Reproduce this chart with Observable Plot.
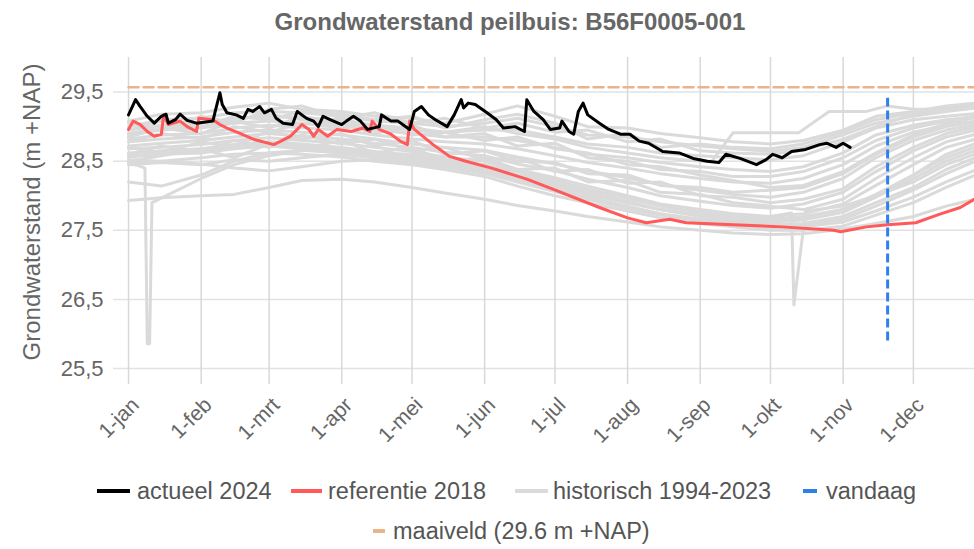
<!DOCTYPE html>
<html><head><meta charset="utf-8">
<script src="https://cdn.jsdelivr.net/npm/d3@7"></script>
<script src="https://cdn.jsdelivr.net/npm/@observablehq/plot@0.6"></script>
<style>
body{margin:0;background:#fff;font-family:"Liberation Sans",Arial,sans-serif;}
#wrap{position:relative;width:974px;height:549px;overflow:hidden;background:#fff;}
#title{position:absolute;left:46px;width:928px;top:10px;text-align:center;font-weight:bold;font-size:24px;line-height:24px;color:#666;}
#chart{position:absolute;left:0;top:45px;}
.leg{position:absolute;font-size:23.5px;color:#555;line-height:24px;white-space:nowrap;}
.sym{position:absolute;height:4px;}
</style></head>
<body><div id="wrap">
<div id="title">Grondwaterstand peilbuis: B56F0005-001</div>
<div id="chart"></div>
<div id="legend"></div>
</div>
<script>
// ---------- data ----------
const yLabel = "Grondwaterstand (m +NAP)";
const yTicks = [25.5, 26.5, 27.5, 28.5, 29.5];
const monthDates = ["2024-01-01","2024-02-01","2024-03-01","2024-04-01","2024-05-01","2024-06-01","2024-07-01","2024-08-01","2024-09-01","2024-10-01","2024-11-01","2024-12-01"];
const monthLabels = ["1-jan","1-feb","1-mrt","1-apr","1-mei","1-jun","1-jul","1-aug","1-sep","1-okt","1-nov","1-dec"];

const actualDates = ["2024-01-01","2024-01-04","2024-01-06","2024-01-09","2024-01-12","2024-01-15","2024-01-17","2024-01-18","2024-01-21","2024-01-23","2024-01-26","2024-01-30","2024-02-06","2024-02-07","2024-02-09","2024-02-10","2024-02-12","2024-02-16","2024-02-19","2024-02-21","2024-02-23","2024-02-26","2024-02-28","2024-03-02","2024-03-04","2024-03-07","2024-03-11","2024-03-13","2024-03-17","2024-03-20","2024-03-22","2024-03-24","2024-03-27","2024-04-01","2024-04-03","2024-04-06","2024-04-09","2024-04-12","2024-04-17","2024-04-18","2024-04-22","2024-04-25","2024-04-27","2024-04-30","2024-05-02","2024-05-05","2024-05-08","2024-05-11","2024-05-16","2024-05-19","2024-05-22","2024-05-23","2024-05-25","2024-05-28","2024-06-02","2024-06-06","2024-06-09","2024-06-14","2024-06-18","2024-06-19","2024-06-22","2024-06-26","2024-06-29","2024-07-03","2024-07-04","2024-07-07","2024-07-09","2024-07-11","2024-07-13","2024-07-15","2024-07-20","2024-07-24","2024-07-29","2024-08-02","2024-08-06","2024-08-10","2024-08-16","2024-08-23","2024-08-29","2024-09-04","2024-09-09","2024-09-12","2024-09-18","2024-09-25","2024-09-29","2024-10-02","2024-10-06","2024-10-10","2024-10-16","2024-10-22","2024-10-25","2024-10-29","2024-11-01","2024-11-04"];
const actualValues = [29.17,29.39,29.29,29.15,29.05,29.15,29.18,29.05,29.10,29.18,29.09,29.05,
 29.08,29.22,29.49,29.32,29.20,29.17,29.12,29.25,29.22,29.29,29.20,
 29.25,29.12,29.05,29.03,29.22,29.12,29.08,29.00,29.15,29.10,
 29.03,29.08,29.15,29.08,28.96,29.00,29.17,29.08,29.08,29.03,28.96,
 29.22,29.29,29.17,29.10,29.00,29.17,29.39,29.27,29.34,29.32,
 29.20,29.10,28.98,29.00,28.93,29.39,29.22,29.10,28.96,
 28.98,29.08,28.93,28.89,29.22,29.34,29.17,29.05,28.96,28.89,
 28.89,28.79,28.76,28.64,28.62,28.54,
 28.50,28.48,28.60,28.54,28.45,28.52,
 28.60,28.55,28.64,28.67,28.74,28.76,28.70,
 28.76,28.70];

const refDates = ["2024-01-01","2024-01-03","2024-01-06","2024-01-09","2024-01-12","2024-01-15","2024-01-16","2024-01-18","2024-01-23","2024-01-26","2024-01-30","2024-01-31","2024-02-06","2024-02-09","2024-02-12","2024-02-17","2024-02-24","2024-03-03","2024-03-06","2024-03-10","2024-03-13","2024-03-15","2024-03-18","2024-03-20","2024-03-22","2024-03-26","2024-03-30","2024-04-05","2024-04-10","2024-04-13","2024-04-14","2024-04-17","2024-04-22","2024-04-26","2024-04-29","2024-04-30","2024-05-02","2024-05-10","2024-05-17","2024-05-24","2024-06-04","2024-06-19","2024-06-29","2024-07-20","2024-08-01","2024-08-09","2024-08-19","2024-08-26","2024-09-15","2024-10-06","2024-10-28","2024-10-31","2024-11-11","2024-11-20","2024-12-02","2024-12-12","2024-12-21","2024-12-27","2024-12-31"];
const refValues = [28.96,29.08,29.03,28.93,28.86,28.89,29.17,29.03,29.08,29.00,28.93,29.12,
 29.10,29.03,28.98,28.91,28.81,
 28.74,28.79,28.86,28.96,29.03,28.96,28.86,28.96,28.86,28.96,
 28.93,28.98,28.93,29.08,28.96,28.89,28.79,28.74,29.08,
 28.96,28.74,28.57,28.50,
 28.40,28.24,28.11,
 27.83,
 27.68,27.61,27.66,27.61,
 27.58,
 27.55,27.50,27.48,
 27.55,27.58,
 27.61,27.73,27.83,27.95,28.02];

// historical years 1994-2023 (read as a band of representative lines)
const histDates = ["2024-01-01","2024-01-15","2024-02-01","2024-02-15","2024-03-01","2024-03-15","2024-04-01","2024-04-15","2024-05-01","2024-05-15","2024-06-01","2024-06-15","2024-07-01","2024-07-15","2024-08-01","2024-08-15","2024-09-01","2024-09-15","2024-10-01","2024-10-15","2024-11-01","2024-11-15","2024-12-01","2024-12-15","2024-12-31"];
const histValues = [
 [29.08,29.18,29.20,29.28,29.34,29.25,29.22,29.15,29.12,29.05,29.18,29.30,29.15,29.00,28.98,28.90,28.84,28.78,28.75,28.80,28.95,29.15,29.22,29.30,29.35],
 [29.00,29.10,29.12,29.20,29.22,29.20,29.15,29.08,29.05,29.00,29.05,29.12,29.00,28.88,28.85,28.78,28.72,28.68,28.64,28.70,28.88,29.05,29.15,29.22,29.28],
 [28.95,29.02,29.05,29.12,29.15,29.12,29.10,29.02,28.98,28.92,28.95,28.95,28.85,28.75,28.70,28.62,28.58,28.55,28.52,28.58,28.78,28.98,29.10,29.15,29.20],
 [28.88,28.95,28.98,29.05,29.08,29.05,29.02,28.95,28.90,28.85,28.85,28.80,28.70,28.60,28.55,28.48,28.42,28.38,28.35,28.42,28.62,28.88,29.02,29.10,29.15],
 [28.82,28.88,28.90,28.98,29.02,28.98,28.95,28.88,28.82,28.78,28.75,28.68,28.58,28.48,28.40,28.32,28.25,28.20,28.18,28.25,28.45,28.72,28.92,29.02,29.10],
 [28.78,28.82,28.85,28.92,28.95,28.92,28.88,28.82,28.75,28.70,28.66,28.56,28.46,28.36,28.26,28.16,28.08,28.02,27.98,28.05,28.25,28.55,28.80,28.95,29.05],
 [28.72,28.76,28.80,28.85,28.90,28.86,28.82,28.76,28.70,28.63,28.58,28.46,28.36,28.24,28.12,28.00,27.92,27.86,27.82,27.88,28.05,28.35,28.65,28.85,28.98],
 [28.68,28.70,28.74,28.80,28.84,28.80,28.76,28.70,28.64,28.56,28.50,28.38,28.26,28.14,28.00,27.88,27.80,27.74,27.70,27.74,27.88,28.15,28.45,28.70,28.85],
 [28.62,28.65,28.68,28.74,28.78,28.75,28.70,28.64,28.58,28.50,28.42,28.30,28.18,28.05,27.92,27.80,27.72,27.66,27.62,27.65,27.76,27.98,28.25,28.50,28.70],
 [28.56,28.60,28.62,28.68,28.72,28.68,28.64,28.58,28.52,28.44,28.35,28.22,28.10,27.98,27.85,27.74,27.66,27.60,27.56,27.58,27.66,27.85,28.08,28.32,28.55],
 [28.48,28.50,28.55,28.60,28.62,28.60,28.56,28.50,28.45,28.38,28.28,28.14,28.00,27.90,27.78,27.68,27.60,27.55,27.50,27.50,27.56,27.72,27.90,28.12,28.35],
 [28.52,28.50,28.46,28.40,28.36,28.42,28.50,28.52,28.48,28.42,28.32,28.20,28.06,27.95,27.82,27.72,27.64,27.58,27.54,27.55,27.62,27.78,27.98,28.20,28.42],
 [27.93,27.97,28.00,28.02,28.12,28.22,28.24,28.20,28.12,28.04,27.95,27.86,27.78,27.70,27.62,27.55,27.50,27.46,27.44,27.45,27.52,27.60,27.70,27.85,27.98],
 [28.20,28.14,28.30,28.50,28.62,28.66,28.62,28.56,28.50,28.46,28.38,28.26,28.14,28.02,27.90,27.80,27.70,27.63,27.58,27.60,27.70,27.90,28.12,28.38,28.60],
 [29.05,28.95,29.15,29.05,29.25,29.30,29.12,29.20,29.05,29.12,28.98,29.05,28.92,28.95,28.78,28.82,28.65,28.62,28.60,28.66,28.82,29.00,29.18,29.25,29.30],
 [28.85,28.98,28.90,29.08,28.98,29.15,29.05,28.90,29.02,28.85,28.90,28.72,28.76,28.55,28.50,28.38,28.35,28.28,28.28,28.35,28.55,28.80,28.98,29.08,29.18],
 [28.70,28.62,28.78,28.70,28.95,28.82,28.90,28.72,28.80,28.60,28.65,28.50,28.48,28.32,28.30,28.15,28.12,28.05,28.08,28.12,28.32,28.60,28.85,29.00,29.08],
 [28.60,28.72,28.62,28.80,28.70,28.88,28.75,28.82,28.65,28.70,28.52,28.55,28.35,28.38,28.18,28.20,28.00,27.98,27.90,27.95,28.10,28.42,28.70,28.90,29.02],
 [28.50,28.58,28.68,28.55,28.75,28.68,28.80,28.62,28.70,28.50,28.55,28.38,28.40,28.20,28.22,28.05,28.02,27.90,27.85,27.80,27.95,28.25,28.55,28.78,28.92],
 [28.95,29.08,28.98,29.15,29.10,29.22,29.18,29.10,29.15,28.98,29.10,29.18,29.05,28.82,28.90,28.70,28.75,28.70,28.68,28.75,28.92,29.10,29.20,29.28,29.32],
 [28.45,28.48,28.45,28.52,28.50,28.55,28.60,28.55,28.60,28.48,28.45,28.30,28.22,28.08,27.98,27.85,27.76,27.70,27.66,27.68,27.80,28.00,28.30,28.60,28.80],
 [28.78,28.90,28.82,29.00,28.92,29.05,28.98,29.02,28.88,28.92,28.80,28.85,28.68,28.62,28.45,28.42,28.30,28.22,28.12,28.15,28.35,28.62,28.88,29.05,29.15]
];
const gapYearDates = ["2024-01-01","2024-01-15","2024-02-01","2024-02-15","2024-03-01","2024-03-15","2024-04-01","2024-04-15","2024-05-01","2024-05-15","2024-06-01","2024-06-15","2024-07-01","2024-07-15","2024-08-01","2024-08-15","2024-09-01","2024-09-06","2024-09-15","2024-10-13","2024-10-26","2024-11-11","2024-11-20","2024-12-01","2024-12-15","2024-12-31"];
const gapYearValues = [28.90,28.98,29.00,29.10,29.18,29.10,29.05,29.00,28.95,28.92,29.00,28.90,28.82,28.70,28.62,28.55,28.50,28.50,28.91,28.91,29.22,29.22,29.30,29.25,29.25,29.30];
const spikeJanDates = ["2024-01-01","2024-01-05","2024-01-08","2024-01-09","2024-01-10","2024-01-11","2024-01-20","2024-02-01","2024-02-15","2024-03-01","2024-03-15","2024-04-01","2024-04-15","2024-05-01","2024-05-15","2024-06-01","2024-06-15","2024-07-01","2024-07-15","2024-08-01","2024-08-15","2024-09-01","2024-09-15","2024-10-01","2024-10-15","2024-11-01","2024-11-15","2024-12-01","2024-12-15","2024-12-31"];
const spikeJanValues = [28.46,28.44,28.40,25.86,25.86,27.90,28.05,28.25,28.45,28.58,28.65,28.68,28.62,28.60,28.52,28.45,28.35,28.22,28.10,27.96,27.85,27.76,27.70,27.66,27.70,27.80,28.02,28.30,28.55,28.75];
const spikeOktDates = ["2024-01-01","2024-01-15","2024-02-01","2024-02-15","2024-03-01","2024-03-15","2024-04-01","2024-04-15","2024-05-01","2024-05-15","2024-06-01","2024-06-15","2024-07-01","2024-07-15","2024-08-01","2024-08-15","2024-09-01","2024-09-15","2024-10-01","2024-10-10","2024-10-11","2024-10-16","2024-11-01","2024-11-15","2024-12-01","2024-12-15","2024-12-31"];
const spikeOktValues = [28.58,28.62,28.66,28.70,28.75,28.72,28.68,28.60,28.55,28.48,28.40,28.28,28.15,28.02,27.90,27.80,27.72,27.68,27.70,27.75,26.42,27.78,27.85,28.00,28.20,28.45,28.65];

const maaiveldValue = 29.57;
const maaiveldDates = ["2024-01-01","2024-12-31"];
const vandaagDate = "2024-11-20";
const vandaagRange = [25.9, 29.41];

const legendLabels = ["actueel 2024","referentie 2018","historisch 1994-2023","vandaag","maaiveld (29.6 m +NAP)"];
const legendColors = ["#000000","#ff5959","#dadada","#2f80ed","#e8b48c"];

// ---------- build ----------
const D = s => new Date(s + "T00:00:00Z");
const pts = (dates, vals, series) => dates.map((d, i) => ({date: D(d), value: vals[i], series}));

const hist = [];
histValues.forEach((vals, k) => hist.push(...pts(histDates, vals, "h" + k)));
hist.push(...pts(gapYearDates, gapYearValues, "gap"));
hist.push(...pts(spikeJanDates, spikeJanValues, "spikeJan"));
hist.push(...pts(spikeOktDates, spikeOktValues, "spikeOkt"));

const actual = pts(actualDates, actualValues, "actueel");
const ref = pts(refDates, refValues, "ref");
const maaiveld = maaiveldDates.map(d => ({date: D(d), value: maaiveldValue}));

const font = '"Liberation Sans", Arial, sans-serif';
const chart = Plot.plot({
  width: 974, height: 420,
  marginTop: 12, marginLeft: 113, marginRight: 0, marginBottom: 81,
  style: {fontFamily: font, background: "transparent", color: "#666"},
  x: {type: "utc", domain: [new Date(Date.UTC(2023, 11, 25, 14)), new Date(Date.UTC(2024, 11, 27, 2))]},
  y: {domain: [25.27, 30]},
  marks: [
    Plot.gridY(yTicks, {stroke: "#e2e2e2", strokeOpacity: 1, strokeWidth: 1.5}),
    Plot.gridX(monthDates.map(D), {stroke: "#d8d8d8", strokeOpacity: 1, strokeWidth: 1.5}),
    Plot.axisY(yTicks, {tickSize: 0, tickPadding: 10, fontSize: 22, fill: "#666", label: null,
      tickFormat: d => d.toFixed(1).replace(".", ",")}),
    Plot.axisX(monthDates.map(D), {tickSize: 0, tickPadding: 17, dx: 7, tickRotate: -45, fontSize: 21, fill: "#666", label: null,
      tickFormat: d => monthLabels[d.getUTCMonth()]}),
    Plot.text([yLabel], {frameAnchor: "left", dx: -81, dy: -9, rotate: -90, textAnchor: "middle", lineAnchor: "middle", fontSize: 24, fill: "#666"}),
    Plot.line(hist, {x: "date", y: "value", z: "series", stroke: "#dadada", strokeWidth: 3, clip: true}),
    Plot.line(ref, {x: "date", y: "value", stroke: "#ff5959", strokeWidth: 3, clip: true}),
    Plot.line(actual, {x: "date", y: "value", stroke: "#000", strokeWidth: 3, clip: true}),
    Plot.line(maaiveld, {x: "date", y: "value", stroke: "#e8b48c", strokeWidth: 2.5, strokeDasharray: "10,5", clip: true}),
    Plot.ruleX([D(vandaagDate)], {y1: vandaagRange[0], y2: vandaagRange[1], stroke: "#2f80ed", strokeWidth: 3, strokeDasharray: "9,4"})
  ]
});
document.getElementById("chart").appendChild(chart);

// legend (HTML, below the chart)
const legendLayout = [
  {sx: 97, sw: 33, tx: 137, top: 479},
  {sx: 291, sw: 31, tx: 328, top: 479},
  {sx: 515, sw: 33, tx: 553, top: 479},
  {sx: 803, sw: 14, tx: 826, top: 479},
  {sx: 373, sw: 12, tx: 393, top: 519}
];
const leg = document.getElementById("legend");
legendLabels.forEach((lab, i) => {
  const L = legendLayout[i];
  const s = document.createElement("div");
  s.className = "sym";
  s.style.left = L.sx + "px"; s.style.width = L.sw + "px"; s.style.top = (L.top + 10) + "px";
  s.style.background = legendColors[i];
  leg.appendChild(s);
  const t = document.createElement("div");
  t.className = "leg";
  t.style.left = L.tx + "px"; t.style.top = L.top + "px";
  t.textContent = lab;
  leg.appendChild(t);
});
</script>
</body></html>
